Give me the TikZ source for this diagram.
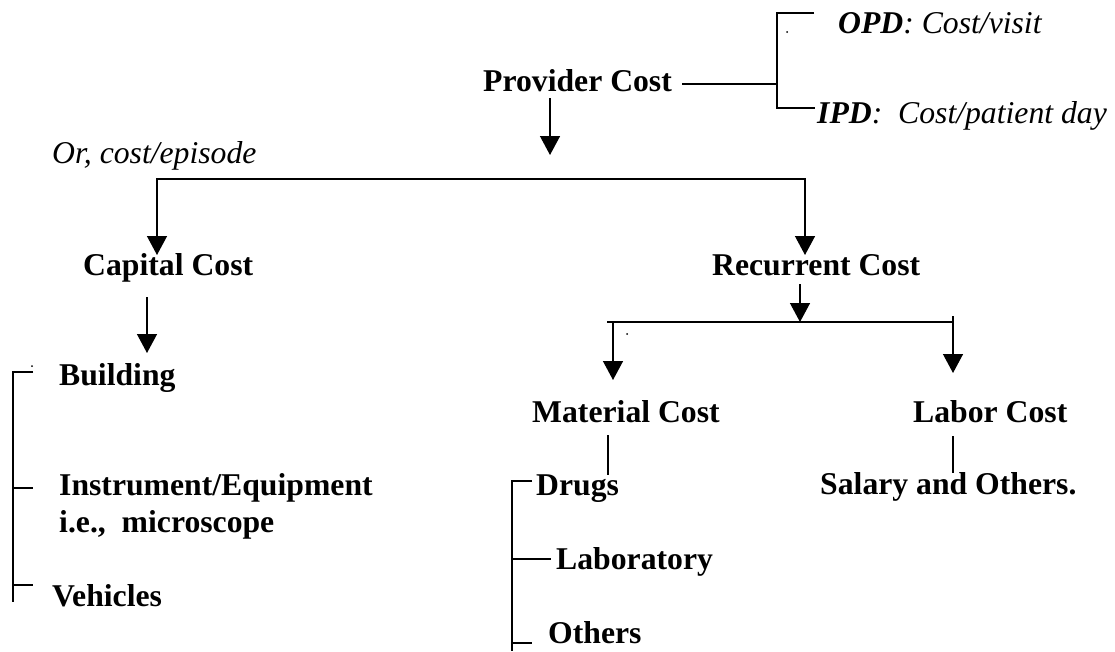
\documentclass[tikz,border=0pt]{standalone}
\usepackage{fontspec}
\setmainfont{Liberation Serif}
\usetikzlibrary{arrows.meta}
\begin{document}
\begin{tikzpicture}[x=1pt,y=-1pt,
  txt/.style={inner sep=0pt,anchor=base west,font=\fontsize{31.7}{38}\selectfont\bfseries},
  itx/.style={inner sep=0pt,anchor=base west,font=\fontsize{31.7}{38}\selectfont\itshape},
  ln/.style={line width=1.4pt},
  arr/.style={line width=1.4pt,-{Triangle[length=19pt,width=20pt]}},
  arrb/.style={line width=1.4pt,{Triangle[length=19pt,width=20pt]}-{Triangle[length=19pt,width=20pt]}},
  dotm/.style={fill=black,circle,inner sep=0pt,minimum size=2pt}]
\useasboundingbox (0,0) rectangle (1115,651);
% text nodes
\node[txt] (prov) at (483,91) {Provider Cost};
\node[itx] (opd) at (838,33) {\textbf{OPD}: Cost/visit};
\node[itx] (ipd) at (817,123) {\textbf{IPD}:\ \ Cost/patient day};
\node[itx] (episode) at (52,163) {Or, cost/episode};
\node[txt] (capital) at (83,275) {Capital Cost};
\node[txt] (recur) at (712,275) {Recurrent Cost};
\node[txt] (building) at (59,385) {Building};
\node[txt] (instr) at (59,495) {Instrument/Equipment};
\node[txt] (micro) at (59,532) {i.e.,\ \ microscope};
\node[txt] (vehicles) at (52,606) {Vehicles};
\node[txt] (material) at (532,422) {Material Cost};
\node[txt] (labor) at (913,422) {Labor Cost};
\node[txt] (salary) at (820,494) {Salary and Others.};
\node[txt] (drugs) at (536,495) {Drugs};
\node[txt] (lab) at (556,569) {Laboratory};
\node[txt] (others) at (548,643) {Others};
% coordinates
\coordinate (pj) at (777,84);
\coordinate (ps) at (682,84);
\coordinate (opdt) at (814,13);
\coordinate (ipdt) at (815,108);
\coordinate (pa1) at (550,98);
\coordinate (pa2) at (550,155);
\coordinate (capt) at (157,255);
\coordinate (split) at (805,179);
\coordinate (rect) at (805,255);
\coordinate (ca1) at (147,297);
\coordinate (ca2) at (147,353);
\coordinate (ra1) at (800,284);
\coordinate (ra2) at (800,322);
\coordinate (bl) at (607,322);
\coordinate (br) at (953,322);
\coordinate (brt) at (953,316);
\coordinate (mt) at (613,322);
\coordinate (mtip) at (613,380);
\coordinate (ltip) at (953,373);
\coordinate (mv1) at (608,435);
\coordinate (mv2) at (608,475);
\coordinate (lv1) at (953,436);
\coordinate (lv2) at (953,473);
% top bracket
\draw[ln] (ps) -- (pj);
\draw[ln] (opdt) -- (opdt -| pj) -- (ipdt -| pj) -- (ipdt);
\node[dotm] (d1) at (787,32) {};
% provider arrow
\draw[arr] (pa1) -- (pa2);
% split to capital / recurrent
\draw[arrb] (capt) |- (split) -- (rect);
\draw[arr] (ca1) -- (ca2);
% recurrent split
\draw[arr] (ra1) -- (ra2);
\draw[ln] (bl) -- (br);
\draw[arr] (mt) -- (mtip);
\draw[arr] (brt) -- (ltip);
\node[dotm] (d2) at (627,334) {};
\draw[ln] (mv1) -- (mv2);
\draw[ln] (lv1) -- (lv2);
% left bracket
\draw[ln] (33,372) -- (13,372) -- (13,602);
\draw[ln] (13,488) -- (33,488);
\draw[ln] (13,585) -- (33,585);
\node[dotm] (d3) at (32,366) {};
% drugs bracket
\draw[ln] (532,481) -- (512,481) -- (512,651);
\draw[ln] (512,559) -- (551,559);
\draw[ln] (512,643) -- (532,643);
\end{tikzpicture}
\end{document}
